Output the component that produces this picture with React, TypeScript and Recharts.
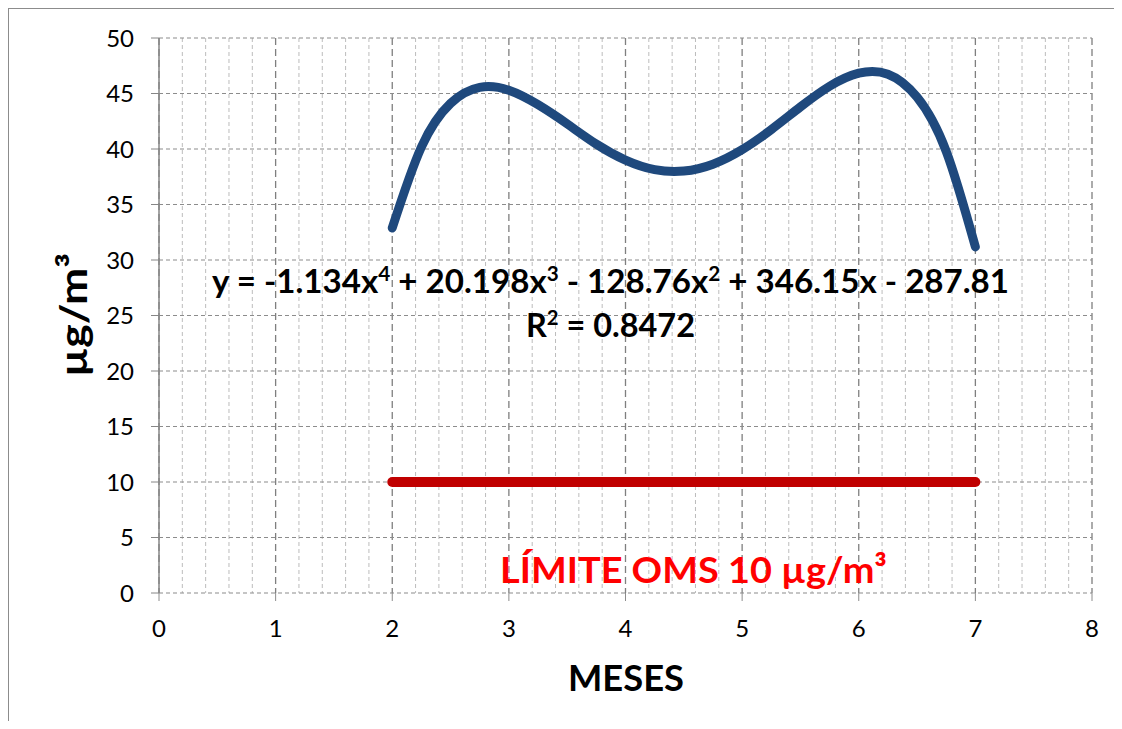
import React from 'react';
import { LineChart, Line, XAxis, YAxis, CartesianGrid } from 'recharts';

// trend line values (months 2 to 7)
const trendMonths = [2, 2.25, 2.5, 2.75, 3, 3.25, 3.5, 3.75, 4, 4.25, 4.5, 4.75, 5, 5.25, 5.5, 5.75, 6, 6.25, 6.5, 6.75, 7];
const trendValues = [32.89, 40.18, 44.11, 45.55, 45.29, 43.99, 42.26, 40.44, 39.0, 38.14, 38.01, 38.63, 39.94, 41.75, 43.79, 45.65, 46.83, 46.74, 44.67, 39.79, 31.18];

// WHO limit line
const limitMonths = [2, 3, 4, 5, 6, 7];
const limitValues = [10, 10, 10, 10, 10, 10];

const xTicks = [0, 1, 2, 3, 4, 5, 6, 7, 8];
const yTicks = [0, 5, 10, 15, 20, 25, 30, 35, 40, 45, 50];
const xMinor = [0.2, 0.4, 0.6, 0.8, 1.2, 1.4, 1.6, 1.8, 2.2, 2.4, 2.6, 2.8, 3.2, 3.4, 3.6, 3.8, 4.2, 4.4, 4.6, 4.8, 5.2, 5.4, 5.6, 5.8, 6.2, 6.4, 6.6, 6.8, 7.2, 7.4, 7.6, 7.8];

const trendData = trendMonths.map((x, i) => ({ x, y: trendValues[i] }));
const limitData = limitMonths.map((x, i) => ({ x, y: limitValues[i] }));

const FONT = 'Lato, "Open Sans", sans-serif';
const W = 1112;
const H = 712;

const App: React.FC = () => {
  const tickStyle = { fontFamily: FONT, fontSize: 24, fill: '#000' };
  return (
    <div
      style={{
        position: 'relative',
        width: 1113,
        height: H,
        overflow: 'hidden',
        borderTop: '1px solid #8c8c8c',
        borderLeft: '1px solid #8c8c8c',
        background: '#fff',
      }}
    >
      <LineChart width={W} height={H} margin={{ top: 29, right: 29, left: 100, bottom: 98 }}>
        <CartesianGrid
          horizontal={false}
          verticalValues={xMinor}
          stroke="#bcbcbc"
          strokeDasharray="4 3"
        />
        <CartesianGrid
          horizontal={false}
          verticalValues={xTicks}
          stroke="#7f7f7f"
          strokeWidth={1.3}
          strokeDasharray="7 4"
        />
        <CartesianGrid
          vertical={false}
          horizontalValues={yTicks}
          stroke="#8c8c8c"
          strokeWidth={1.2}
          strokeDasharray="4 3"
        />
        <XAxis
          dataKey="x"
          type="number"
          domain={[0, 8]}
          ticks={xTicks}
          interval={0}
          height={30}
          axisLine={false}
          tickLine={{ stroke: '#8c8c8c' }}
          tickSize={8}
          tickMargin={19}
          tick={tickStyle}
          allowDuplicatedCategory={false}
        />
        <YAxis
          type="number"
          domain={[0, 50]}
          ticks={yTicks}
          interval={0}
          width={50}
          axisLine={{ stroke: '#868686', strokeWidth: 1.5 }}
          tickLine={{ stroke: '#868686' }}
          tickSize={8}
          tickMargin={17}
          tick={tickStyle}
        />
        <Line
          data={limitData}
          dataKey="y"
          type="linear"
          stroke="#C00000"
          strokeWidth={10}
          strokeLinecap="round"
          dot={false}
          activeDot={false}
          isAnimationActive={false}
        />
        <Line
          data={trendData}
          dataKey="y"
          type="natural"
          stroke="#1F497D"
          strokeWidth={9}
          strokeLinecap="round"
          dot={false}
          activeDot={false}
          isAnimationActive={false}
        />
      </LineChart>
      <svg
        width={W}
        height={H}
        style={{ position: 'absolute', left: 0, top: 0, pointerEvents: 'none' }}
        fontFamily={FONT}
        fontWeight={700}
      >
        <text x={601.5} y={284} textAnchor="middle" fontSize={32} fill="#000" textLength={797} lengthAdjust="spacingAndGlyphs">
          y = -1.134x<tspan fontSize={20} dy={-12}>4</tspan>
          <tspan dy={12}> + 20.198x</tspan>
          <tspan fontSize={20} dy={-12}>3</tspan>
          <tspan dy={12}> - 128.76x</tspan>
          <tspan fontSize={20} dy={-12}>2</tspan>
          <tspan dy={12}> + 346.15x - 287.81</tspan>
        </text>
        <text x={601.5} y={328} textAnchor="middle" fontSize={32} fill="#000" textLength={169} lengthAdjust="spacingAndGlyphs">
          R<tspan fontSize={20} dy={-12}>2</tspan>
          <tspan dy={12}> = 0.8472</tspan>
        </text>
        <text x={684.5} y={574} textAnchor="middle" fontSize={37} fill="#FF0000" textLength={387} lengthAdjust="spacingAndGlyphs">
          LÍMITE OMS 10 µg/m³
        </text>
        <text x={617} y={682} textAnchor="middle" fontSize={37} fill="#000" textLength={116} lengthAdjust="spacingAndGlyphs">
          MESES
        </text>
        <text
          x={0}
          y={0}
          transform="translate(78 306) rotate(-90)"
          textAnchor="middle"
          fontSize={38}
          fill="#000"
          textLength={124}
          lengthAdjust="spacingAndGlyphs"
        >
          µg/m³
        </text>
      </svg>
    </div>
  );
};

export default App;
